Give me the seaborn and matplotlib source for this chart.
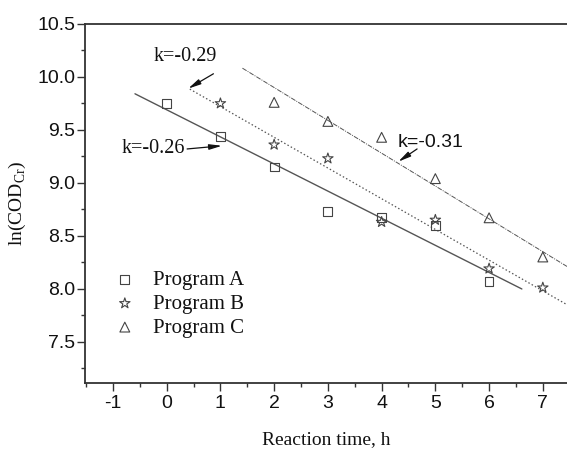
import matplotlib
matplotlib.use("Agg")
import matplotlib.pyplot as plt
import seaborn as sns
import numpy as np
import pandas as pd
from matplotlib.ticker import MultipleLocator

# ---- data ----
programs = ["Program A", "Program B", "Program C"]
time_a = [0, 1, 2, 3, 4, 5, 6]
lncod_a = [9.75, 9.44, 9.15, 8.73, 8.67, 8.60, 8.07]
time_b = [1, 2, 3, 4, 5, 6, 7]
lncod_b = [9.75, 9.36, 9.23, 8.63, 8.65, 8.19, 8.01]
time_c = [2, 3, 4, 5, 6, 7]
lncod_c = [9.76, 9.58, 9.43, 9.04, 8.67, 8.30]

# fitted lines (slope, intercept, x range)
fit_slope = [-0.256, -0.29, -0.31]
fit_intercept = [9.69, 10.01, 10.52]
fit_xstart = [-0.59, 0.43, 1.41]
fit_xend = [6.61, 7.45, 7.45]
k_labels = ["k=-0.26", "k=-0.29", "k=-0.31"]

x_ticks = [-1, 0, 1, 2, 3, 4, 5, 6, 7]
y_ticks = [7.5, 8.0, 8.5, 9.0, 9.5, 10.0, 10.5]

pts = pd.DataFrame({
    "time": time_a + time_b + time_c,
    "lncod": lncod_a + lncod_b + lncod_c,
    "program": [programs[0]] * len(time_a) + [programs[1]] * len(time_b) + [programs[2]] * len(time_c),
})
fit_rows = []
for p, m, b, xs, xe in zip(programs, fit_slope, fit_intercept, fit_xstart, fit_xend):
    for xv in (xs, xe):
        fit_rows.append({"time": xv, "lncod": b + m * xv, "program": p})
fits = pd.DataFrame(fit_rows)

sns.set_theme(style="ticks")
plt.rcParams["font.family"] = ["Liberation Sans", "DejaVu Sans"]

fig = plt.figure(figsize=(5.67, 4.49), dpi=100)
ax = fig.add_axes([85 / 567, 1 - 383 / 449, 482 / 567, 359 / 449])

line_color = "#555555"
line_styles = {programs[0]: "-", programs[1]: (0, (1.2, 1.8)), programs[2]: (0, (5, 1.2, 1, 1.2))}
line_widths = {programs[0]: 1.0, programs[1]: 0.9, programs[2]: 0.7}
for p in programs:
    sub = fits[fits["program"] == p]
    sns.lineplot(data=sub, x="time", y="lncod", ax=ax, color=line_color,
                 linestyle=line_styles[p], linewidth=line_widths[p],
                 legend=False, estimator=None, sort=False)

markers = {programs[0]: "s", programs[1]: "*", programs[2]: "^"}
sizes = {programs[0]: 40, programs[1]: 62, programs[2]: 50}
for p in programs:
    sub = pts[pts["program"] == p]
    sns.scatterplot(data=sub, x="time", y="lncod", ax=ax, marker=markers[p],
                    s=sizes[p], facecolor="none", edgecolor="#444444",
                    linewidth=0.8, label=p, zorder=3)

ax.set_xlim(-1.52, 7.45)
ax.set_ylim(7.11, 10.5)
ax.set_xticks(x_ticks)
ax.set_yticks(y_ticks)
ax.set_xticklabels([str(v) for v in x_ticks])
ax.set_yticklabels([f"{v:.1f}" for v in y_ticks])
ax.xaxis.set_minor_locator(MultipleLocator(0.5))
ax.yaxis.set_minor_locator(MultipleLocator(0.25))
ax.tick_params(axis="both", which="major", direction="out", length=5.8, width=1.0,
               labelsize=14, color="#333333", labelcolor="#111111")
ax.tick_params(axis="y", which="major", pad=1)
ax.tick_params(axis="x", which="major", pad=2.5)
ax.tick_params(axis="both", which="minor", direction="out", length=3, width=1.0, color="#333333")
ax.tick_params(top=False, right=False, which="both")

for s in ["left", "bottom", "top"]:
    ax.spines[s].set_visible(True)
    ax.spines[s].set_color("#333333")
    ax.spines[s].set_linewidth(1.3)
ax.spines["right"].set_visible(False)

serif = ["Liberation Serif", "DejaVu Serif"]
ax.set_xlabel("Reaction time, h", fontsize=14, family=serif, color="#111111")
ax.set_ylabel(r"ln(COD$_{\mathregular{Cr}}$)", fontsize=14, family=serif, color="#111111")
ax.xaxis.set_label_coords(0.5, -0.135)
ax.yaxis.set_label_coords(-0.118, 0.5)

leg = ax.legend(loc="center left", bbox_to_anchor=(0.061, 0.22), frameon=False,
                prop={"family": serif, "size": 15}, handlelength=1.0,
                handletextpad=0.85, borderpad=0, borderaxespad=0, labelspacing=0.2)
for t in leg.get_texts():
    t.set_color("#111111")

arrow = dict(arrowstyle="-|>,head_length=0.75,head_width=0.16", color="#111111",
             lw=0.9, mutation_scale=10, shrinkA=0, shrinkB=0)
# k=-0.26
ax.text(-0.83, 9.32, k_labels[0], ha="left", va="center", fontsize=14.5,
        family=serif, color="#111111")
ax.annotate("", xy=(1.03, 9.35), xytext=(0.38, 9.32), arrowprops=arrow)
# k=-0.29
ax.text(-0.25, 10.19, k_labels[1], ha="left", va="center", fontsize=14.5,
        family=serif, color="#111111")
ax.annotate("", xy=(0.40, 9.89), xytext=(0.87, 10.03), arrowprops=arrow)
# k=-0.31
ax.text(4.29, 9.38, k_labels[2], ha="left", va="center", fontsize=14,
        family=["Liberation Sans"], color="#111111")
ax.annotate("", xy=(4.31, 9.20), xytext=(4.66, 9.32), arrowprops=arrow)

fig.savefig("out.png", dpi=100)
